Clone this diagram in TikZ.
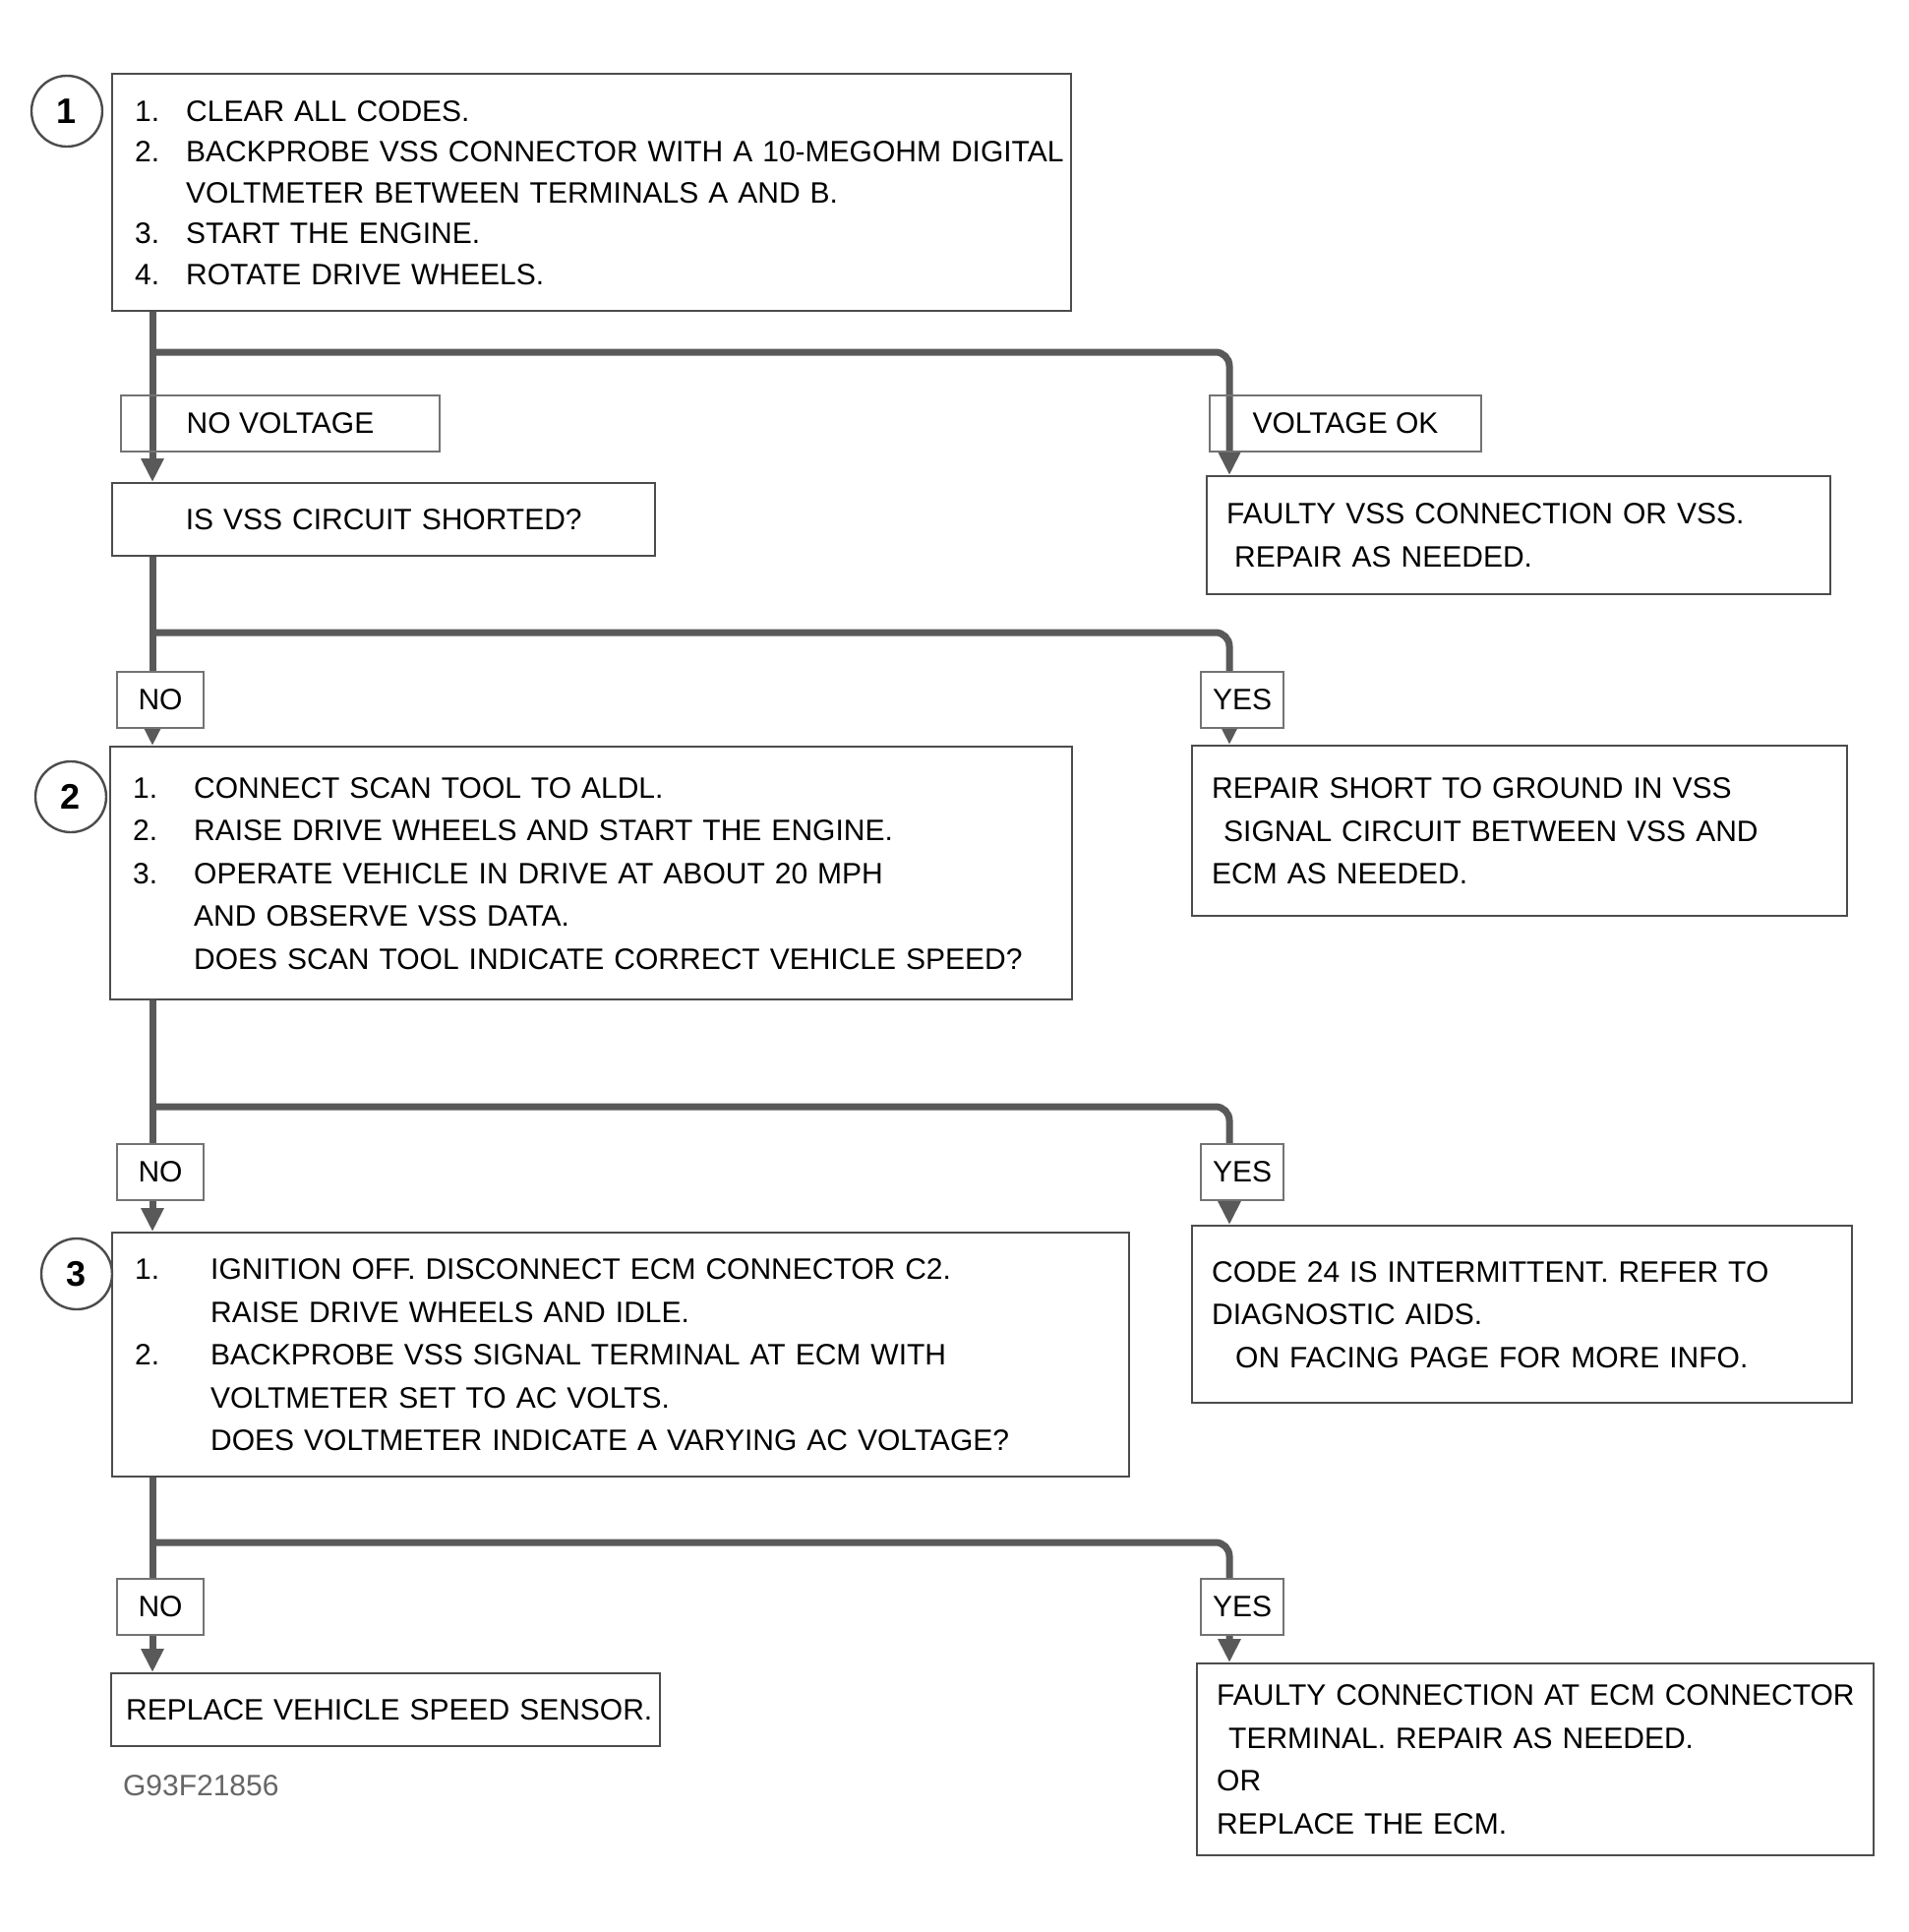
\documentclass[tikz,border=0pt]{standalone}
\usepackage{fontspec}
\setmainfont{Liberation Sans}
\usetikzlibrary{arrows.meta}
\newcommand{\numline}[3]{\mbox{\makebox[#1][l]{\hspace{4pt}#2}#3}}
\newcommand{\Ln}[1]{\mbox{#1}}
\begin{document}
\begin{tikzpicture}[x=0.5pt,y=-0.5pt,
  boxs/.style={draw=black!70, line width=1.2pt, anchor=north west, align=left,
    inner xsep=7.5pt, inner ysep=0pt, font=\fontsize{15}{21.75}\selectfont},
  rbox/.style={boxs, inner xsep=10pt},
  cbox/.style={boxs, align=center},
  conn/.style={draw=black!65, line width=3.5pt, rounded corners=7pt},
  arr/.style={conn, -{Triangle[length=12pt,width=11pt]}},
  lab/.style={draw=black!55, line width=1pt, fill=white, inner sep=0pt,
    minimum height=28.5pt, font=\fontsize{15}{18}\selectfont},
  stepnum/.style={circle, draw=black!70, line width=1.2pt, fill=white,
    minimum size=36pt, inner sep=0pt, font=\fontsize{18}{18}\selectfont\bfseries},
  figref/.style={anchor=west, text=black!60, font=\fontsize{15}{17}\selectfont}
]
\fill[white] (0,0) rectangle (1941,1964);
\useasboundingbox (0,0) rectangle (1941,1964);

% ---------- left column boxes ----------
\node[boxs, text width=472.5pt, minimum height=120.5pt,
      font=\fontsize{15}{20.75}\selectfont] (b1) at (113,74) {%
\numline{30pt}{1.}{CLEAR ALL CODES.}\\
\numline{30pt}{2.}{BACKPROBE VSS CONNECTOR WITH A 10-MEGOHM DIGITAL}\\
\numline{30pt}{}{VOLTMETER BETWEEN TERMINALS A AND B.}\\
\numline{30pt}{3.}{START THE ENGINE.}\\
\numline{30pt}{4.}{ROTATE DRIVE WHEELS.}};

\node[cbox, text width=261pt, minimum height=37pt] (lb2) at (113,490)
  {\Ln{IS VSS CIRCUIT SHORTED?}};

\node[boxs, text width=474pt, minimum height=128.5pt] (b3) at (111,758) {%
\numline{35pt}{1.}{CONNECT SCAN TOOL TO ALDL.}\\
\numline{35pt}{2.}{RAISE DRIVE WHEELS AND START THE ENGINE.}\\
\numline{35pt}{3.}{OPERATE VEHICLE IN DRIVE AT ABOUT 20 MPH}\\
\numline{35pt}{}{AND OBSERVE VSS DATA.}\\
\numline{35pt}{}{DOES SCAN TOOL INDICATE CORRECT VEHICLE SPEED?}};

\node[boxs, text width=502pt, minimum height=124pt] (b4) at (113,1252) {%
\numline{42.5pt}{1.}{IGNITION OFF. DISCONNECT ECM CONNECTOR C2.}\\
\numline{42.5pt}{}{RAISE DRIVE WHEELS AND IDLE.}\\
\numline{42.5pt}{2.}{BACKPROBE VSS SIGNAL TERMINAL AT ECM WITH}\\
\numline{42.5pt}{}{VOLTMETER SET TO AC VOLTS.}\\
\numline{42.5pt}{}{DOES VOLTMETER INDICATE A VARYING AC VOLTAGE?}};

\node[cbox, text width=264pt, minimum height=37pt] (lb5) at (112,1700)
  {\Ln{REPLACE VEHICLE SPEED SENSOR.}};

% ---------- right column boxes ----------
\node[rbox, text width=297pt, minimum height=60pt] (rb2) at (1226,483) {%
\Ln{FAULTY VSS CONNECTION OR VSS.}\\
\Ln{\hspace{4pt}REPAIR AS NEEDED.}};

\node[rbox, text width=313pt, minimum height=86.5pt] (rb3) at (1211,757) {%
\Ln{REPAIR SHORT TO GROUND IN VSS}\\
\Ln{\hspace{6pt}SIGNAL CIRCUIT BETWEEN VSS AND}\\
\Ln{ECM AS NEEDED.}};

\node[rbox, text width=315.5pt, minimum height=90pt] (rb4) at (1211,1245) {%
\Ln{CODE 24 IS INTERMITTENT. REFER TO}\\
\Ln{DIAGNOSTIC AIDS.}\\
\Ln{\hspace{12pt}ON FACING PAGE FOR MORE INFO.}};

\node[rbox, text width=324pt, minimum height=97.5pt] (rb5) at (1216,1690) {%
\Ln{FAULTY CONNECTION AT ECM CONNECTOR}\\
\Ln{\hspace{6pt}TERMINAL. REPAIR AS NEEDED.}\\
\Ln{OR}\\
\Ln{REPLACE THE ECM.}};

% ---------- step numbers ----------
\node[stepnum] (s1) at (68,113) {1};
\node[stepnum] (s2) at (72,810) {2};
\node[stepnum] (s3) at (78,1295) {3};

% ---------- junctions ----------
\coordinate (j1) at (155,358);  \coordinate (j1r) at (1250,358);
\coordinate (j2) at (155,643);  \coordinate (j2r) at (1250,643);
\coordinate (j3) at (155,1125); \coordinate (j3r) at (1250,1125);
\coordinate (j4) at (155,1568); \coordinate (j4r) at (1250,1568);

% ---------- connectors ----------
\draw[conn] (b1.south -| j1) -- (j1);
\draw[arr] (j1) -- (lb2.north -| j1);
\draw[arr] (j1) -- (j1r) -- (rb2.north -| j1r);

\draw[conn] (lb2.south -| j2) -- (j2);
\draw[arr] (j2) -- (b3.north -| j2);
\draw[arr] (j2) -- (j2r) -- (rb3.north -| j2r);

\draw[conn] (b3.south -| j3) -- (j3);
\draw[arr] (j3) -- (b4.north -| j3);
\draw[arr] (j3) -- (j3r) -- (rb4.north -| j3r);

\draw[conn] (b4.south -| j4) -- (j4);
\draw[arr] (j4) -- (lb5.north -| j4);
\draw[arr] (j4) -- (j4r) -- (rb5.north -| j4r);

% ---------- branch labels ----------
\node[lab, anchor=north west, minimum width=162pt, fill=none] (l1l) at (122,401) {NO VOLTAGE};
\node[lab, anchor=north west, minimum width=138pt, fill=none] (l1r) at (1229,401) {VOLTAGE OK};

\node[lab, minimum width=44pt] (l2l) at (163,711) {NO};
\node[lab, minimum width=42pt] (l2r) at (1263,711) {YES};
\node[lab, minimum width=44pt] (l3l) at (163,1191) {NO};
\node[lab, minimum width=42pt] (l3r) at (1263,1191) {YES};
\node[lab, minimum width=44pt] (l4l) at (163,1633) {NO};
\node[lab, minimum width=42pt] (l4r) at (1263,1633) {YES};

\node[figref] (fig) at (118,1815) {G93F21856};
\end{tikzpicture}
\end{document}
